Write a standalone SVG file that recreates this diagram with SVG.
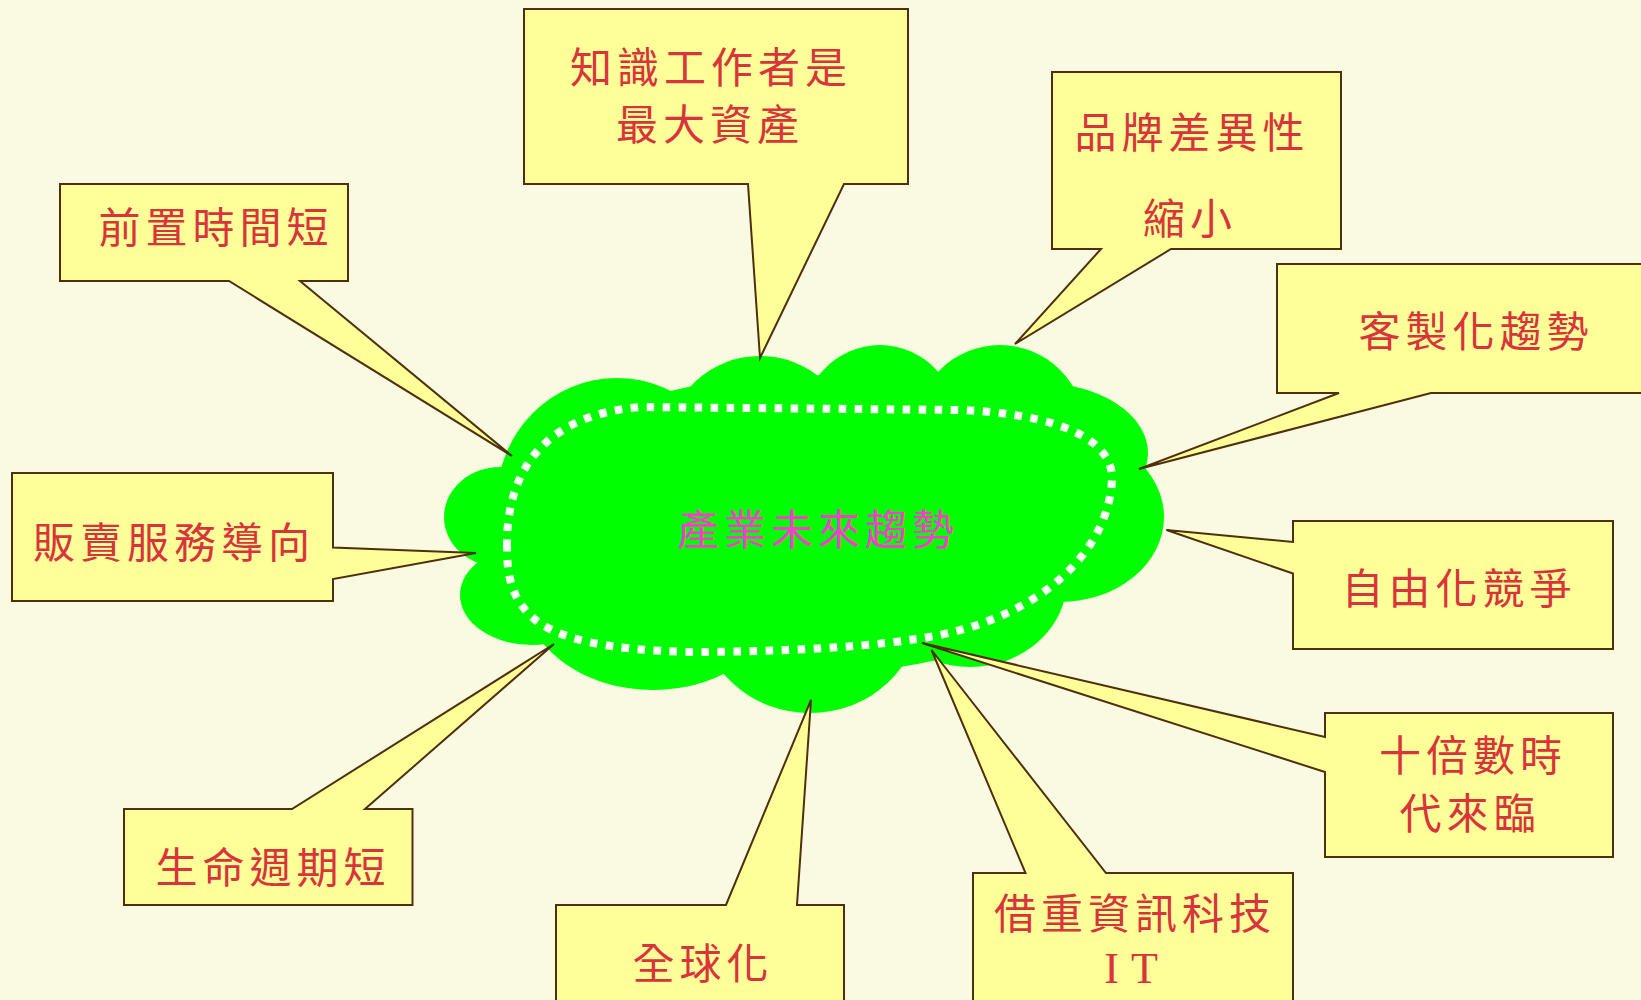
<svg xmlns="http://www.w3.org/2000/svg" width="1641" height="1000" viewBox="0 0 1641 1000">
<style>
.bg{fill:#FAFAE2}
.callout{fill:#FFFF99;stroke:#4F2F0C;stroke-width:2;stroke-linejoin:miter}
.lbl{font-family:"Noto Sans CJK TC","Noto Sans CJK SC",sans-serif;font-size:42px;letter-spacing:5px;fill:#D8343C;text-anchor:middle}
.center{font-family:"Noto Sans CJK TC","Noto Sans CJK SC",sans-serif;font-size:42px;letter-spacing:5px;fill:#F53FCB;text-anchor:middle}
.cloud{fill:#00FF00}
.dots{fill:none;stroke:#FFFFFF;stroke-width:8;stroke-dasharray:7.5 8.5}
.it{font-family:"Liberation Serif",serif;font-size:44px;letter-spacing:12px;fill:#D8343C;text-anchor:middle}
</style>
<rect class="bg" x="0" y="0" width="1641" height="1000"/>

<g id="cloud-node">
  <g class="cloud">
    <ellipse cx="805" cy="525" rx="300" ry="150"/>
    <ellipse cx="500" cy="517" rx="56" ry="50"/>
    <ellipse cx="532" cy="595" rx="72" ry="50"/>
    <ellipse cx="653" cy="590" rx="130" ry="100"/>
    <ellipse cx="810" cy="610" rx="110" ry="103"/>
    <ellipse cx="970" cy="580" rx="97" ry="87"/>
    <ellipse cx="1060" cy="517" rx="104" ry="85"/>
    <ellipse cx="1040" cy="453" rx="108" ry="70"/>
    <ellipse cx="1000" cy="430" rx="85" ry="85"/>
    <ellipse cx="880" cy="430" rx="80" ry="85"/>
    <ellipse cx="760" cy="440" rx="90" ry="84"/>
    <ellipse cx="617" cy="500" rx="120" ry="122"/>
  </g>
  <path class="dots" d="M507,547 C506,470 545,415 640,407 L960,410 C1060,414 1112,440 1112,478 C1110,545 1050,612 940,635 C880,647 780,652 690,652 C610,650 555,640 530,615 C510,595 507,572 507,547 Z"/>
  <text class="center" x="818" y="545">產業未來趨勢</text>
</g>

<g id="connectors"></g>

<g id="node-knowledge">
  <path class="callout" d="M524,9 H908 V184 H844 L760,358 L748,184 H524 Z"/>
  <text class="lbl" x="711" y="83">知識工作者是</text>
  <text class="lbl" x="710" y="140">最大資產</text>
</g>

<g id="node-leadtime">
  <path class="callout" d="M60,184 H348 V281 H300 L512,456 L229,281 H60 Z"/>
  <text class="lbl" x="216" y="243">前置時間短</text>
</g>

<g id="node-brand">
  <path class="callout" d="M1052,72 H1341 V249 H1171 L1015,344 L1101,249 H1052 Z"/>
  <text class="lbl" x="1192" y="148">品牌差異性</text>
  <text class="lbl" x="1190" y="234">縮小</text>
</g>

<g id="node-custom">
  <path class="callout" d="M1277,264 H1645 V393 H1431 L1139,469 L1339,393 H1277 Z"/>
  <text class="lbl" x="1476" y="347">客製化趨勢</text>
</g>

<g id="node-service">
  <path class="callout" d="M12,473 H333 V547.5 L476,553 L333,579 V601 H12 Z"/>
  <text class="lbl" x="174" y="558">販賣服務導向</text>
</g>

<g id="node-liberal">
  <path class="callout" d="M1293,521 H1613 V649 H1293 V573.5 L1166.5,530 L1293,542 Z"/>
  <text class="lbl" x="1459" y="604">自由化競爭</text>
</g>

<g id="node-tenfold">
  <path class="callout" d="M1325,713 H1613 V857 H1325 V772 L922,643 L1325,737 Z"/>
  <text class="lbl" x="1473" y="771">十倍數時</text>
  <text class="lbl" x="1470" y="829">代來臨</text>
</g>

<g id="node-it">
  <path class="callout" d="M973,873 H1025.5 L931.5,650 L1106,873 H1293 V1005 H973 Z"/>
  <text class="lbl" x="1135" y="929">借重資訊科技</text>
  <text class="it" x="1137" y="983">IT</text>
</g>

<g id="node-lifecycle">
  <path class="callout" d="M124,809 H292 L554,644 L365,809 H412.5 V905 H124 Z"/>
  <text class="lbl" x="273" y="883">生命週期短</text>
</g>

<g id="node-global">
  <path class="callout" d="M556,905 H726 L811,700 L797,905 H844 V1005 H556 Z"/>
  <text class="lbl" x="703" y="979">全球化</text>
</g>
</svg>
